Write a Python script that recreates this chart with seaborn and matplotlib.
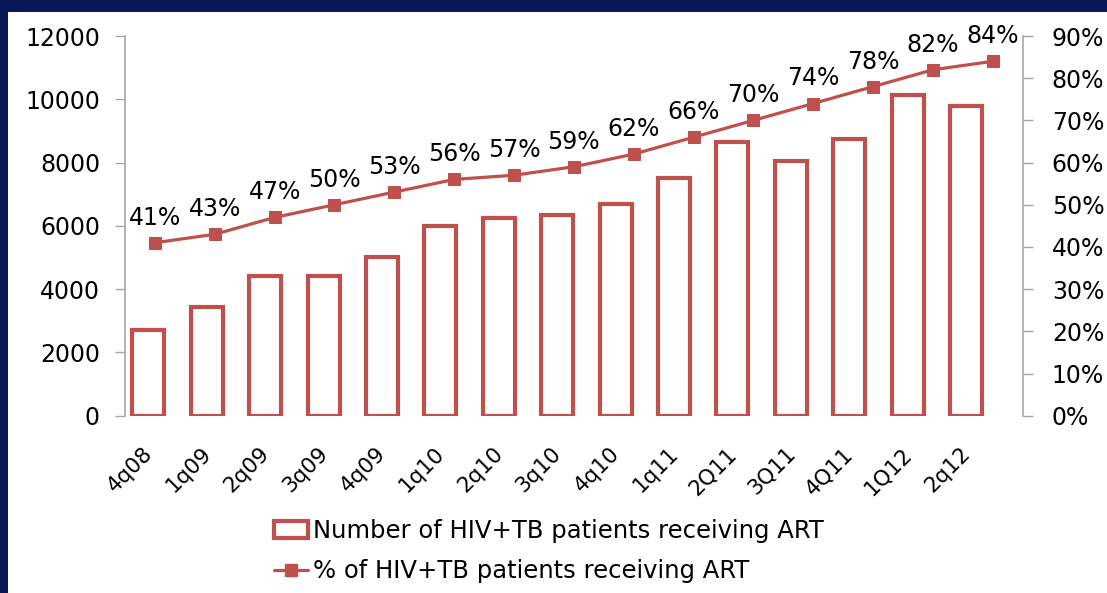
import matplotlib
matplotlib.use("Agg")
import matplotlib.pyplot as plt
import seaborn as sns
import pandas as pd
from matplotlib.patches import Rectangle, Patch
from matplotlib.lines import Line2D
from matplotlib.ticker import FuncFormatter
from matplotlib.transforms import ScaledTranslation

categories = ["4q08", "1q09", "2q09", "3q09", "4q09", "1q10", "2q10", "3q10",
              "4q10", "1q11", "2Q11", "3Q11", "4Q11", "1Q12", "2q12"]
patients = [2700, 3450, 4400, 4400, 5000, 6000, 6250, 6350,
            6700, 7500, 8650, 8050, 8750, 10150, 9800]
percent = [41, 43, 47, 50, 53, 56, 57, 59, 62, 66, 70, 74, 78, 82, 84]
bar_label = "Number of HIV+TB patients receiving ART"
line_label = "% of HIV+TB patients receiving ART"

RED = "#C0504D"
NAVY = "#0A1757"
GRAY = "#A6A6A6"

sns.set_style("white")
plt.rcParams["font.family"] = ["DejaVu Sans"]
plt.rcParams["text.color"] = "black"
plt.rcParams["xtick.labelcolor"] = "black"
plt.rcParams["ytick.labelcolor"] = "black"

W, H = 1107, 593
fig = plt.figure(figsize=(W / 100, H / 100), dpi=100)
fig.patch.set_facecolor(NAVY)
fig.patches.append(Rectangle((8 / W, 0), 1 - 8 / W, (H - 12) / H,
                             transform=fig.transFigure, facecolor="white",
                             edgecolor="none", zorder=-5))

rect = [125 / W, (H - 415.7) / H, (1022.7 - 125) / W, (415.7 - 36) / H]
ax = fig.add_axes(rect)
ax.set_facecolor("none")

df = pd.DataFrame({"cat": categories, "n": patients, "pct": percent})
sns.barplot(data=df, x="cat", y="n", ax=ax, fill=False, color=RED,
            linewidth=3.0, width=0.55)
for p in ax.patches:
    p.set_edgecolor(RED)
    p.set_linewidth(3.0)
ax.set_xlim(-0.40, 14.97)
ax.set_ylim(0, 12000)
ax.set_yticks(range(0, 12001, 2000))
ax.set_xlabel("")
ax.set_ylabel("")
ax.tick_params(axis="y", direction="out", length=7, width=1, color=GRAY,
               labelsize=17, pad=11, left=True, labelcolor="black")
ax.tick_params(axis="x", length=0, labelsize=15.5, pad=20, labelcolor="black")
shift = ScaledTranslation(-6 / 100, 0, fig.dpi_scale_trans)
for lab in ax.get_xticklabels():
    lab.set_rotation(45)
    lab.set_ha("right")
    lab.set_rotation_mode("anchor")
    lab.set_transform(lab.get_transform() + shift)
for s in ["top", "right", "bottom"]:
    ax.spines[s].set_visible(False)
ax.spines["left"].set_color(GRAY)
ax.spines["left"].set_linewidth(1.2)

ax2 = fig.add_axes(rect)
ax2.set_facecolor("none")
df["pos"] = range(len(categories))
sns.lineplot(data=df, x="pos", y="pct", ax=ax2, color=RED, linewidth=2.3,
             marker="s", markersize=9, markeredgecolor=RED)
ax2.set_xlim(-0.5, 14.5)
ax2.set_ylim(0, 90)
ax2.set_xticks([])
ax2.set_xlabel("")
ax2.set_ylabel("")
ax2.yaxis.tick_right()
ax2.set_yticks(range(0, 91, 10))
ax2.yaxis.set_major_formatter(FuncFormatter(lambda v, _: f"{int(v)}%"))
ax2.tick_params(axis="y", direction="out", length=7, width=1, color=GRAY,
                labelsize=17, pad=14, right=True, left=False,
                labelcolor="black")
for s in ["top", "left", "bottom"]:
    ax2.spines[s].set_visible(False)
ax2.spines["right"].set_color(GRAY)
ax2.spines["right"].set_linewidth(1.2)

for x, v in zip(df["pos"], percent):
    ax2.annotate(f"{v}%", (x, v), xytext=(0, 13), textcoords="offset points",
                 ha="center", va="baseline", fontsize=17, color="black")

handles = [Patch(facecolor="white", edgecolor=RED, linewidth=3.0),
           Line2D([], [], color=RED, linewidth=2.3, marker="s", markersize=9)]
fig.legend(handles, [bar_label, line_label], loc="upper left",
           bbox_to_anchor=(264 / W, (H - 509) / H), frameon=False,
           prop={"family": "DejaVu Sans", "size": 17.5}, handlelength=1.4,
           handletextpad=0.2, labelspacing=0.68, borderaxespad=0,
           labelcolor="black")

fig.savefig("out.png", dpi=100, facecolor=fig.get_facecolor())
